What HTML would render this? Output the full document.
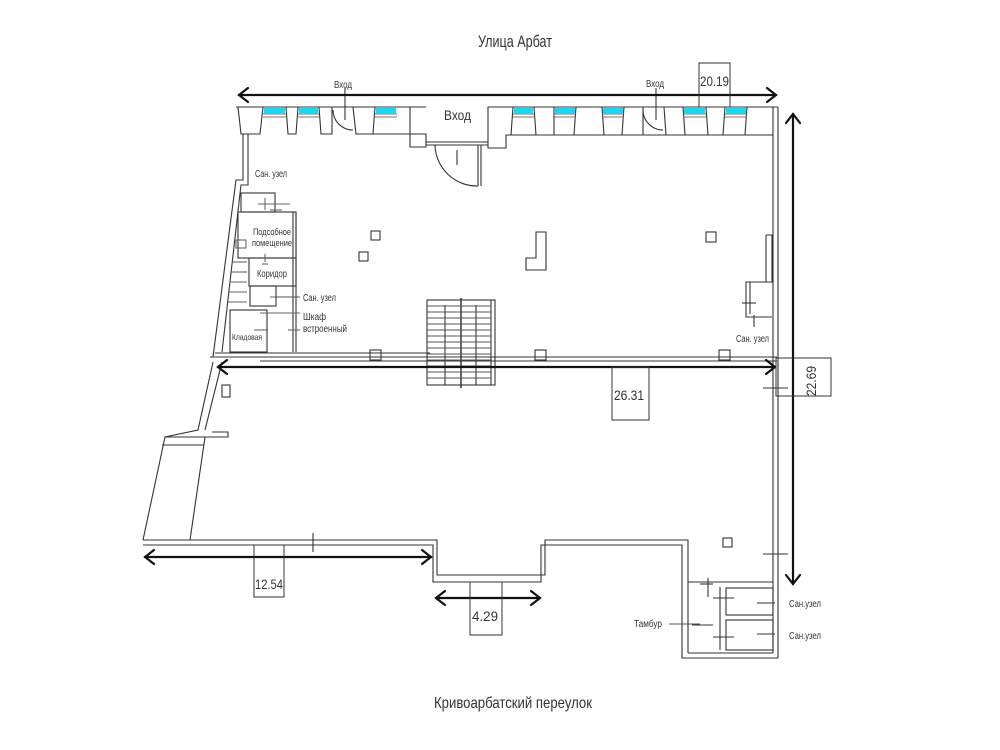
<!DOCTYPE html>
<html><head><meta charset="utf-8"><style>
html,body{margin:0;padding:0;background:#fff;}
svg{display:block;}
text{font-family:"Liberation Sans Narrow","Liberation Sans",sans-serif;fill:#333;}
</style></head><body>
<svg width="1000" height="750" viewBox="0 0 1000 750" xmlns="http://www.w3.org/2000/svg">
<g fill="none" stroke="#333" stroke-width="1.1">
<!-- top facade block -->
<line x1="236" y1="107" x2="426" y2="107"/>
<line x1="488" y1="107" x2="778" y2="107"/>
<!-- piers -->
<polygon points="238,107 263,107 260,134 241,134"/>
<polygon points="286,107 298,107 296,134 288,134"/>
<polygon points="319,107 332,107 332,134 321,134"/>
<path d="M353,107 L375,107 L373,134 L356,134 Z"/>
<path d="M397,107 L410,107 L410,134 L426,134 L426,147 L410,147 L410,134"/>
<line x1="397" y1="107" x2="397" y2="107"/>
<path d="M488,107 L513,107 L511,135 L506,135 L506,148 L488,148 Z"/>
<polygon points="534,107 554,107 554,135 536,135"/>
<polygon points="576,107 602,107 604,135 574,135"/>
<polygon points="624,107 643,107 643,135 622,135"/>
<polygon points="664,107 683,107 685,135 666,135"/>
<polygon points="706,107 725,107 723,135 708,135"/>
<polygon points="747,107 773,107 773,135 745,135"/>
<line x1="506" y1="135" x2="773" y2="135"/>
<line x1="356" y1="134" x2="410" y2="134"/>
<!-- window sills -->
<g stroke="#777">
<line x1="263" y1="114" x2="286" y2="114"/><line x1="263" y1="117" x2="286" y2="117"/>
<line x1="298" y1="114" x2="319" y2="114"/><line x1="298" y1="117" x2="319" y2="117"/>
<line x1="375" y1="114" x2="397" y2="114"/><line x1="375" y1="117" x2="397" y2="117"/>
<line x1="513" y1="114" x2="534" y2="114"/><line x1="513" y1="117" x2="534" y2="117"/>
<line x1="554" y1="114" x2="576" y2="114"/><line x1="554" y1="117" x2="576" y2="117"/>
<line x1="602" y1="114" x2="624" y2="114"/><line x1="602" y1="117" x2="624" y2="117"/>
<line x1="683" y1="114" x2="706" y2="114"/><line x1="683" y1="117" x2="706" y2="117"/>
<line x1="725" y1="114" x2="747" y2="114"/><line x1="725" y1="117" x2="747" y2="117"/>
</g>
<!-- side doors -->
<path d="M333,110 A20,20 0 0 0 353,130"/>
<path d="M643,110 A20,20 0 0 0 663,130"/>
<line x1="345" y1="88" x2="345" y2="120"/>
<line x1="656" y1="88" x2="656" y2="120"/>
<!-- main door -->
<line x1="426" y1="142" x2="488" y2="142"/><line x1="426" y1="145" x2="488" y2="145"/>
<path d="M435,145 A42,42 0 0 0 478,186"/>
<line x1="478" y1="145" x2="478" y2="186"/><line x1="481" y1="145" x2="481" y2="186"/>
<line x1="457" y1="150" x2="457" y2="165"/>
<!-- right wall -->
<line x1="773" y1="135" x2="773" y2="582"/>
<line x1="778" y1="107" x2="778" y2="658"/>
<!-- left upper wall -->
<path d="M243,134 L243,180 L236,180 L213,357"/>
<path d="M248,134 L248,185 L241,185 L222,352"/>
<!-- rooms -->
<rect x="241" y="193" width="34" height="19"/>
<rect x="238" y="212" width="58" height="46"/>
<rect x="249" y="258" width="47" height="28"/>
<rect x="250" y="286" width="26" height="20"/>
<rect x="230" y="310" width="37" height="42"/>
<line x1="293" y1="212" x2="293" y2="352"/>
<line x1="296" y1="212" x2="296" y2="352"/>
<g stroke="#666">
<rect x="236" y="240" width="10" height="8"/>
<line x1="232" y1="262" x2="247" y2="262"/><line x1="231" y1="272" x2="247" y2="272"/><line x1="230" y1="282" x2="247" y2="282"/><line x1="229" y1="292" x2="247" y2="292"/><line x1="228" y1="302" x2="247" y2="302"/>
<line x1="265" y1="198" x2="265" y2="210"/><line x1="258" y1="204" x2="290" y2="204"/><line x1="270" y1="210" x2="282" y2="210"/>
<line x1="262" y1="264" x2="268" y2="264"/><line x1="265" y1="254" x2="265" y2="262"/>
<line x1="270" y1="297" x2="300" y2="297"/><line x1="260" y1="313" x2="300" y2="313"/>
<line x1="254" y1="330" x2="268" y2="330"/><line x1="288" y1="330" x2="300" y2="330"/>
</g>
<!-- mid floor line -->
<line x1="215" y1="353" x2="430" y2="353"/>
<line x1="210" y1="357" x2="777" y2="357"/>
<line x1="260" y1="361" x2="777" y2="361"/>
<rect x="370" y="350" width="11" height="10"/>
<rect x="535" y="350" width="11" height="10"/>
<rect x="719" y="350" width="11" height="10"/>
<!-- stair -->
<rect x="427" y="300" width="68" height="85" stroke="#333"/>
<line x1="491" y1="300" x2="491" y2="385"/>
<line x1="461" y1="298" x2="461" y2="388" stroke-width="1.5"/>
<line x1="445" y1="305" x2="445" y2="385"/><line x1="476" y1="305" x2="476" y2="385"/>
<g stroke="#555">
<line x1="427" y1="306" x2="491" y2="306"/><line x1="427" y1="312" x2="491" y2="312"/><line x1="427" y1="318" x2="491" y2="318"/><line x1="427" y1="324" x2="491" y2="324"/><line x1="427" y1="330" x2="491" y2="330"/><line x1="427" y1="336" x2="491" y2="336"/><line x1="427" y1="342" x2="491" y2="342"/><line x1="427" y1="348" x2="491" y2="348"/><line x1="427" y1="354" x2="491" y2="354"/><line x1="427" y1="360" x2="491" y2="360"/><line x1="427" y1="366" x2="491" y2="366"/><line x1="427" y1="372" x2="491" y2="372"/><line x1="427" y1="378" x2="491" y2="378"/>
</g>
<!-- columns -->
<rect x="371" y="231" width="9" height="9"/>
<rect x="359" y="252" width="9" height="9"/>
<rect x="706" y="232" width="10" height="10"/>
<path d="M536,232 L546,232 L546,270 L526,270 L526,258 L536,258 Z"/>
<!-- right wc -->
<path d="M766,235 L772,235 L772,282 L746,282 L746,317 L772,317"/>
<line x1="766" y1="235" x2="766" y2="282"/><line x1="750" y1="282" x2="750" y2="314"/>
<line x1="742" y1="303" x2="756" y2="303"/><line x1="754" y1="315" x2="754" y2="327"/>
<!-- lower hall left -->
<path d="M213,362 L198,430 L165,437 L143,540"/>
<path d="M222,362 L205,430"/>
<rect x="222" y="385" width="8" height="12"/>
<path d="M212,432 L228,432 L228,437 L205,437 L190,540"/>
<line x1="165" y1="437" x2="205" y2="437"/>
<line x1="162" y1="445" x2="204" y2="445"/>
<!-- bottom walls -->
<path d="M143,540 L437,540 L437,575 L545,575 L545,540 L688,540 L688,582 L773,582"/>
<path d="M143,545 L433,545 L433,582 L541,582 L541,545 L682,545 L682,658 L778,658"/>
<line x1="688" y1="582" x2="688" y2="653"/>
<line x1="688" y1="653" x2="773" y2="653"/>
<line x1="773" y1="582" x2="773" y2="653"/>
<rect x="726" y="588" width="47" height="27"/>
<rect x="726" y="620" width="47" height="30"/>
<line x1="720" y1="587" x2="720" y2="650"/>
<line x1="708" y1="578" x2="708" y2="597"/><line x1="700" y1="584" x2="713" y2="584"/>
<line x1="713" y1="598" x2="734" y2="598"/><line x1="713" y1="637" x2="734" y2="637"/>
<line x1="757" y1="603" x2="775" y2="603"/><line x1="757" y1="634" x2="775" y2="634"/>
<line x1="692" y1="625" x2="713" y2="625"/>
<rect x="723" y="538" width="9" height="9"/>
<line x1="763" y1="554" x2="788" y2="554"/>
<line x1="313" y1="533" x2="313" y2="552"/>
<line x1="763" y1="388" x2="788" y2="388"/>
</g>
<!-- cyan glass -->
<g fill="#1cd6f0">
<rect x="264" y="108" width="21" height="6"/><rect x="299" y="108" width="19" height="6"/><rect x="376" y="108" width="20" height="6"/>
<rect x="514" y="108" width="19" height="6"/><rect x="555" y="108" width="20" height="6"/><rect x="603" y="108" width="20" height="6"/>
<rect x="684" y="108" width="21" height="6"/><rect x="726" y="108" width="20" height="6"/>
</g>
<!-- dimension lines -->
<g stroke="#111" stroke-width="2.2" fill="none" stroke-linecap="round">
<line x1="239" y1="95" x2="776" y2="95"/><path d="M248,88 L239,95 L248,102"/><path d="M767,88 L776,95 L767,102"/>
<line x1="793" y1="114" x2="793" y2="584"/><path d="M786,123 L793,114 L800,123"/><path d="M786,575 L793,584 L800,575"/>
<line x1="218" y1="367" x2="775" y2="367"/><path d="M227,360 L218,367 L227,374"/><path d="M766,360 L775,367 L766,374"/>
<line x1="145" y1="557" x2="431" y2="557"/><path d="M154,550 L145,557 L154,564"/><path d="M422,550 L431,557 L422,564"/>
<line x1="436" y1="598" x2="540" y2="598"/><path d="M445,591 L436,598 L445,605"/><path d="M531,591 L540,598 L531,605"/>
</g>
<g fill="none" stroke="#333" stroke-width="1">
<rect x="699" y="63" width="31" height="44"/>
<rect x="776" y="358" width="55" height="38"/>
<rect x="612" y="367" width="37" height="53"/>
<rect x="254" y="545" width="30" height="52"/>
<rect x="470" y="582" width="32" height="53"/>
</g>
<!-- text -->
<text x="478" y="47" font-size="17" textLength="74" lengthAdjust="spacingAndGlyphs">Улица Арбат</text>
<text x="434" y="708" font-size="16" textLength="158" lengthAdjust="spacingAndGlyphs">Кривоарбатский переулок</text>
<text x="700" y="86" font-size="14" textLength="29" lengthAdjust="spacingAndGlyphs">20.19</text>
<text x="614" y="400" font-size="14" textLength="30" lengthAdjust="spacingAndGlyphs">26.31</text>
<text x="255" y="589" font-size="14" textLength="28" lengthAdjust="spacingAndGlyphs">12.54</text>
<text x="472" y="621" font-size="14" textLength="26" lengthAdjust="spacingAndGlyphs">4.29</text>
<text transform="translate(816,396) rotate(-90)" font-size="14" textLength="30" lengthAdjust="spacingAndGlyphs">22.69</text>
<text x="444" y="120" font-size="14" textLength="27" lengthAdjust="spacingAndGlyphs">Вход</text>
<text x="334" y="88" font-size="10" textLength="18" lengthAdjust="spacingAndGlyphs">Вход</text>
<text x="646" y="87" font-size="10" textLength="18" lengthAdjust="spacingAndGlyphs">Вход</text>
<text x="255" y="177" font-size="10" textLength="32" lengthAdjust="spacingAndGlyphs">Сан. узел</text>
<text x="253" y="235" font-size="9.5" textLength="38" lengthAdjust="spacingAndGlyphs">Подсобное</text>
<text x="252" y="246" font-size="9.5" textLength="40" lengthAdjust="spacingAndGlyphs">помещение</text>
<text x="257" y="277" font-size="10" textLength="30" lengthAdjust="spacingAndGlyphs">Коридор</text>
<text x="303" y="301" font-size="10" textLength="33" lengthAdjust="spacingAndGlyphs">Сан. узел</text>
<text x="303" y="320" font-size="10" textLength="23" lengthAdjust="spacingAndGlyphs">Шкаф</text>
<text x="303" y="332" font-size="10" textLength="44" lengthAdjust="spacingAndGlyphs">встроенный</text>
<text x="232" y="340" font-size="8.5" textLength="30" lengthAdjust="spacingAndGlyphs">Кладовая</text>
<text x="736" y="342" font-size="10" textLength="33" lengthAdjust="spacingAndGlyphs">Сан. узел</text>
<text x="634" y="627" font-size="10" textLength="28" lengthAdjust="spacingAndGlyphs">Тамбур</text>
<text x="789" y="607" font-size="10" textLength="32" lengthAdjust="spacingAndGlyphs">Сан.узел</text>
<text x="789" y="639" font-size="10" textLength="32" lengthAdjust="spacingAndGlyphs">Сан.узел</text>
<g stroke="#555" stroke-width="1">
<line x1="669" y1="624" x2="700" y2="624"/>
<line x1="275" y1="297" x2="300" y2="297"/>
</g>
</svg>
</body></html>
